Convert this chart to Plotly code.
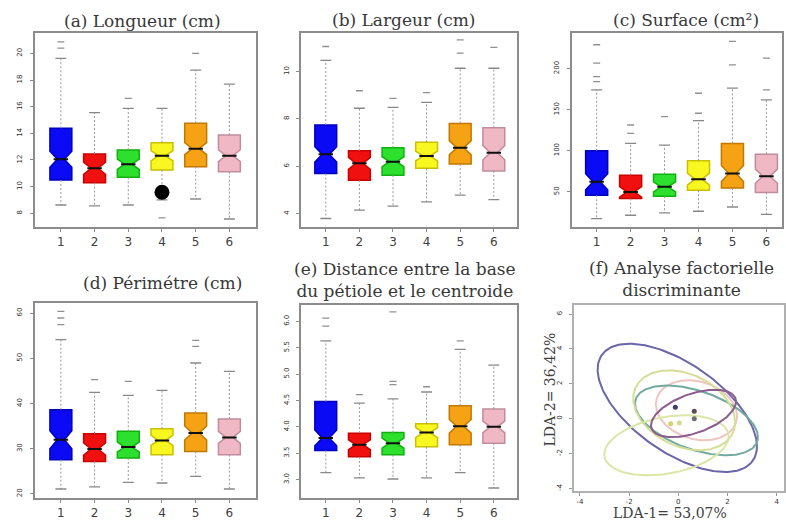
import numpy as np
import plotly.graph_objects as go

W, H = 786, 522

groups = [1, 2, 3, 4, 5, 6]
fill_colors = ["#0a0af5", "#f01010", "#2ee02e", "#f8f820", "#f5a315", "#f0b8c4"]
line_colors = ["#0000c0", "#c80000", "#10b010", "#c8c000", "#c07800", "#c08c9c"]

# (a) Longueur (cm)
long_q1 = [10.50, 10.30, 10.70, 11.25, 11.50, 11.12]
long_med = [12.05, 11.38, 11.68, 12.32, 12.85, 12.32]
long_q3 = [14.38, 12.45, 12.75, 13.30, 14.75, 13.87]
long_lo = [8.62, 8.55, 8.62, 9.00, 9.07, 7.57]
long_hi = [19.63, 15.55, 15.88, 15.88, 18.75, 17.70]
long_notch = [0.60, 0.45, 0.38, 0.38, 0.45, 0.45]
long_out = [[20.40, 20.87], [], [16.63], [7.65], [20.00], []]
long_ticks = [8, 10, 12, 14, 16, 18, 20]
long_extra_x = [4]
long_extra_y = [9.58]

# (b) Largeur (cm)
larg_q1 = [5.69, 5.41, 5.62, 5.91, 6.09, 5.80]
larg_med = [6.50, 6.12, 6.19, 6.43, 6.78, 6.57]
larg_q3 = [7.74, 6.65, 6.78, 7.01, 7.81, 7.63]
larg_lo = [3.79, 4.14, 4.31, 4.49, 4.78, 4.59]
larg_hi = [10.47, 8.45, 8.49, 8.70, 10.14, 10.14]
larg_notch = [0.32, 0.25, 0.21, 0.21, 0.30, 0.30]
larg_out = [[11.06], [9.19], [8.87], [9.11], [10.78, 11.34], [11.02]]
larg_ticks = [4, 6, 8, 10]

# (c) Surface (cm²)
surf_q1 = [45.7, 41.7, 44.5, 51.8, 54.6, 49.0]
surf_med = [62.0, 49.8, 55.9, 65.3, 72.2, 68.9]
surf_q3 = [99.9, 70.2, 71.4, 87.7, 108.9, 95.8]
surf_lo = [17.2, 21.3, 24.1, 26.2, 31.4, 22.5]
surf_hi = [174.1, 108.9, 106.8, 136.6, 176.2, 161.9]
surf_notch = [9.8, 6.5, 6.1, 7.3, 9.8, 8.6]
surf_out = [[184.2, 190.3, 206.7, 229.1], [121.1, 131.3], [141.4],
            [145.6, 170.0], [204.6, 233.1], [174.1, 212.8]]
surf_ticks = [50, 100, 150, 200]

# (d) Périmètre (cm)
peri_q1 = [27.57, 27.19, 27.94, 28.67, 29.40, 28.67]
peri_med = [31.99, 29.93, 30.37, 31.83, 33.47, 32.50]
peri_q3 = [38.63, 33.32, 33.83, 34.42, 37.90, 36.57]
peri_lo = [21.08, 21.53, 22.54, 22.41, 23.87, 21.08]
peri_hi = [54.11, 42.45, 41.79, 42.89, 48.96, 47.10]
peri_notch = [2.0, 1.33, 1.1, 1.1, 1.55, 1.33]
peri_out = [[57.43, 58.91, 60.37], [45.26], [44.89], [], [52.63, 53.95], []]
peri_ticks = [20, 30, 40, 50, 60]

# (e) Distance base du pétiole - centroïde
dist_q1 = [3.55, 3.43, 3.47, 3.62, 3.66, 3.69]
dist_med = [3.79, 3.66, 3.69, 3.89, 4.01, 4.00]
dist_q3 = [4.48, 3.88, 3.89, 4.06, 4.40, 4.34]
dist_lo = [3.13, 3.03, 3.01, 3.03, 3.13, 2.84]
dist_hi = [5.63, 4.45, 4.53, 4.66, 5.47, 5.17]
dist_notch = [0.15, 0.095, 0.095, 0.095, 0.13, 0.11]
dist_out = [[5.91, 6.06], [4.61], [4.80, 4.86, 6.18], [4.76], [5.63], []]
dist_ticks = [3.0, 3.5, 4.0, 4.5, 5.0, 5.5, 6.0]

# (f) LDA ellipses: centre, half extents along each axis, correlation
ell_cx = [-0.04, 0.74, 0.74, -0.48, 0.24, 0.62]
ell_cy = [0.62, 0.48, -0.10, -1.53, 0.48, 0.30]
ell_rx = [3.24, 1.65, 2.50, 2.53, 2.07, 1.73]
ell_ry = [3.68, 1.72, 2.00, 1.72, 2.29, 1.36]
ell_r = [-0.60, -0.20, -0.48, 0.30, -0.30, 0.50]
ell_colors = ["#6a66a8", "#f0c4c0", "#72aaa0", "#dce6a8", "#d6de96", "#8c5c90"]
cent_x = [-0.12, 0.65, 0.65, -0.31, 0.04]
cent_y = [0.66, 0.42, 0.00, -0.29, -0.25]
cent_colors = ["#403c70", "#604858", "#707070", "#d8d070", "#d8d890"]
lda_ticks = [-4, -2, 0, 2, 4, 6]

BOX_W = 0.65
NOTCH_W = 0.34

fig = go.Figure()


def px_x(p):
    return p / W


def px_y(p):
    return 1 - p / H


def box_panel(idx, q1, med, q3, lo, hi, notch, outs, ticks, xr, yr,
              xdom, ydom, tickfmt):
    xa = "x" if idx == 1 else f"x{idx}"
    ya = "y" if idx == 1 else f"y{idx}"
    for i, g in enumerate(groups):
        # dashed whiskers
        fig.add_trace(go.Scatter(
            x=[g, g, None, g, g], y=[q3[i], hi[i], None, q1[i], lo[i]],
            mode="lines", line=dict(color="#989898", width=1, dash="2px,2px"),
            xaxis=xa, yaxis=ya, showlegend=False, hoverinfo="skip"))
        # whisker caps
        cw = BOX_W * 0.25
        fig.add_trace(go.Scatter(
            x=[g - cw, g + cw, None, g - cw, g + cw],
            y=[hi[i], hi[i], None, lo[i], lo[i]],
            mode="lines", line=dict(color="#888888", width=1.3),
            xaxis=xa, yaxis=ya, showlegend=False, hoverinfo="skip"))
        fig.add_trace(go.Box(
            x=[g], q1=[q1[i]], median=[med[i]], q3=[q3[i]],
            lowerfence=[q1[i]], upperfence=[q3[i]], notchspan=[notch[i]],
            notched=True, notchwidth=NOTCH_W, width=BOX_W, whiskerwidth=0,
            fillcolor=fill_colors[i], line=dict(color=line_colors[i], width=1.5),
            xaxis=xa, yaxis=ya, showlegend=False, hoverinfo="skip"))
        # median
        mw = BOX_W / 2 * (1 - NOTCH_W)
        fig.add_trace(go.Scatter(
            x=[g - mw, g + mw], y=[med[i], med[i]],
            mode="lines", line=dict(color="#101010", width=2),
            xaxis=xa, yaxis=ya, showlegend=False, hoverinfo="skip"))
        if outs[i]:
            fig.add_trace(go.Scatter(
                x=[g] * len(outs[i]), y=outs[i], mode="markers",
                marker=dict(symbol="line-ew", size=5,
                            line=dict(color="#909090", width=1.3)),
                xaxis=xa, yaxis=ya, showlegend=False, hoverinfo="skip"))
    axis_common = dict(showline=True, mirror=True, linecolor="#8c8c8c",
                       linewidth=1.5, showgrid=False, zeroline=False,
                       ticks="outside", ticklen=3, tickcolor="#8c8c8c")
    fig.update_layout(**{
        ("xaxis" if idx == 1 else f"xaxis{idx}"): dict(
            domain=xdom, range=xr, anchor=ya, tickmode="array",
            tickvals=groups, ticktext=[str(g) for g in groups],
            tickfont=dict(family="DejaVu Sans", size=12, color="#404040"),
            **axis_common),
        ("yaxis" if idx == 1 else f"yaxis{idx}"): dict(
            domain=ydom, range=yr, anchor=xa, tickmode="array",
            tickvals=ticks, ticktext=[tickfmt(t) for t in ticks],
            tickangle=-90, ticklabelstandoff=5,
            tickfont=dict(family="DejaVu Sans", size=7, color="#303030"),
            **axis_common),
    })


row1 = [px_y(227), px_y(33)]
box_panel(1, long_q1, long_med, long_q3, long_lo, long_hi, long_notch,
          long_out, long_ticks, [0.23, 6.80], [6.97, 21.53],
          [px_x(35), px_x(257)], row1, lambda t: f"{t:d}")
fig.add_trace(go.Scatter(x=long_extra_x, y=long_extra_y, mode="markers",
                         marker=dict(color="black", size=15),
                         showlegend=False, hoverinfo="skip"))
box_panel(2, larg_q1, larg_med, larg_q3, larg_lo, larg_hi, larg_notch,
          larg_out, larg_ticks, [0.27, 6.68], [3.43, 11.63],
          [px_x(302), px_x(518)], row1, lambda t: f"{t:d}")
box_panel(3, surf_q1, surf_med, surf_q3, surf_lo, surf_hi, surf_notch,
          surf_out, surf_ticks, [0.26, 6.46], [7.0, 243.4],
          [px_x(573), px_x(784)], row1, lambda t: f"{t:d}")
box_panel(4, peri_q1, peri_med, peri_q3, peri_lo, peri_hi, peri_notch,
          peri_out, peri_ticks, [0.23, 6.80], [19.09, 62.23],
          [px_x(35), px_x(257)], [px_y(498), px_y(303)], lambda t: f"{t:d}")
box_panel(5, dist_q1, dist_med, dist_q3, dist_lo, dist_hi, dist_notch,
          dist_out, dist_ticks, [0.27, 6.68], [2.65, 6.31],
          [px_x(302), px_x(518)], [px_y(498), px_y(305)], lambda t: f"{t:.1f}")

# (f) discriminant analysis ellipses
t = np.linspace(0, 2 * np.pi, 200)
for cx, cy, rx, ry, r, col in zip(ell_cx, ell_cy, ell_rx, ell_ry, ell_r, ell_colors):
    ex = cx + rx * np.cos(t)
    ey = cy + ry * (r * np.cos(t) + np.sqrt(1 - r * r) * np.sin(t))
    fig.add_trace(go.Scatter(x=ex, y=ey, mode="lines",
                             line=dict(color=col, width=2),
                             xaxis="x6", yaxis="y6", showlegend=False,
                             hoverinfo="skip"))
fig.add_trace(go.Scatter(x=cent_x, y=cent_y, mode="markers",
                         marker=dict(color=cent_colors, size=5),
                         xaxis="x6", yaxis="y6", showlegend=False,
                         hoverinfo="skip"))
f_axis = dict(showline=True, mirror=True, linecolor="#b0b0b0", linewidth=1.5,
              showgrid=False, zeroline=False, ticks="outside", ticklen=3,
              tickcolor="#9a9a9a", tickmode="array",
              tickfont=dict(family="DejaVu Sans", size=7, color="#303030"))
fig.update_layout(
    xaxis6=dict(domain=[px_x(575), 1.0], range=[-4.26, 4.30], anchor="y6",
                tickvals=lda_ticks[:-1], ticktext=[str(v) for v in lda_ticks[:-1]],
                **f_axis),
    yaxis6=dict(domain=[px_y(491), px_y(305)], range=[-4.15, 6.52], anchor="x6",
                tickvals=lda_ticks, ticktext=[str(v) for v in lda_ticks],
                tickangle=-90, ticklabelstandoff=4,
                **f_axis),
)
# axis titles of the discriminant plot
fig.add_annotation(text="LDA-1= 53,07%", x=px_x(672), y=px_y(513),
                   xref="paper", yref="paper", showarrow=False,
                   xanchor="center", yanchor="middle",
                   font=dict(family="DejaVu Serif", size=14, color="#404040"))
fig.add_annotation(text="LDA-2= 36,42%", x=px_x(551), y=px_y(390),
                   xref="paper", yref="paper", showarrow=False, textangle=-90,
                   xanchor="center", yanchor="middle",
                   font=dict(family="DejaVu Serif", size=14, color="#404040"))

titles = [
    ("(a) Longueur (cm)", 143, 21),
    ("(b) Largeur (cm)", 405, 20),
    ("(c) Surface (cm²)", 688, 20),
    ("(d) Périmétre (cm)", 163, 283),
    ("(e) Distance entre la base<br>du pétiole et le centroide", 406, 280),
    ("(f) Analyse factorielle<br>discriminante", 683, 279),
]
for text, cx, cy in titles:
    fig.add_annotation(text=text, x=px_x(cx), y=px_y(cy), xref="paper",
                       yref="paper", showarrow=False, xanchor="center",
                       yanchor="middle",
                       font=dict(family="DejaVu Serif", size=17, color="#383838"))

fig.update_layout(width=W, height=H, margin=dict(l=0, r=0, t=0, b=0),
                  paper_bgcolor="white", plot_bgcolor="white",
                  showlegend=False)
fig.write_html("out.html")
